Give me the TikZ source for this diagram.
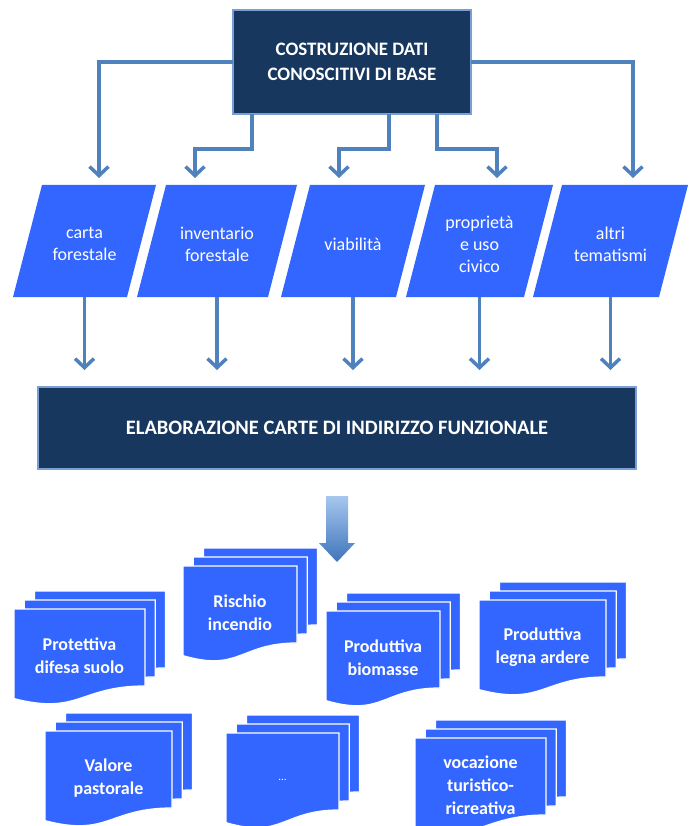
\documentclass[tikz,border=0pt]{standalone}
\usepackage{fontspec}
\setmainfont{Carlito}
\usetikzlibrary{arrows.meta,calc}
\definecolor{darkfill}{HTML}{17375E}
\definecolor{boxedge}{HTML}{7A9FD4}
\definecolor{vivid}{HTML}{3366FF}
\definecolor{connc}{HTML}{4F81BD}
\definecolor{arrowtop}{HTML}{A7C7EE}
\definecolor{arrowbot}{HTML}{3F74BA}
\tikzset{
  darkbox/.style={fill=darkfill, draw=boxedge, line width=2pt, text=white,
    font=\bfseries\fontsize{19}{25}\selectfont, align=center, inner sep=0pt, outer sep=0pt},
  parafill/.style={fill=vivid},
  paratext/.style={text=white, font=\fontsize{18}{22}\selectfont, align=center,
    inner sep=0pt, outer sep=0pt},
  connector/.style={draw=connc, line width=3.5pt, -{Straight Barb[length=9pt,width=19pt]}},
  sheet/.style={fill=vivid, draw=white, line width=1.3pt},
  stacktext/.style={text=white, font=\bfseries\fontsize{18}{23}\selectfont, align=center, inner sep=0pt},
}
\newcommand\Para[4]{%
  \path[parafill] ({#2-#3/2},297) -- ({#2+#3/2-29},297) -- ({#2+#3/2},185) -- ({#2-#3/2+29},185) -- cycle;
  \node[paratext, minimum width=#3pt, minimum height=112pt] (#1) at (#2,244) {#4};
}
\newcommand\DocStack[6]{%
  \foreach \k in {2,1,0}{%
    \pgfmathsetmacro\X{#2+\k*10.25}%
    \pgfmathsetmacro\Y{#3-\k*9}%
    \path[sheet] (\X,\Y) -- ({\X+#4},\Y) -- ({\X+#4},{\Y+0.802*#5})
      .. controls ({\X+0.5*#4},{\Y+0.802*#5}) and ({\X+0.5*#4},{\Y+1.107*#5}) ..
      (\X,{\Y+0.934*#5}) -- cycle;
  }%
  \node[stacktext] (#1) at ({#2+#4/2},{#3+47}) {#6};
}
\begin{document}
\begin{tikzpicture}[x=1pt,y=-1pt]
\useasboundingbox (0,0) rectangle (690,826);

\node[darkbox, minimum width=238pt, minimum height=104pt] (build) at (352,62)
  {COSTRUZIONE DATI\\CONOSCITIVI DI BASE};

\Para{p1}{84.5}{143}{carta\\forestale}
\Para{p2}{217}{160}{inventario\\forestale}
\Para{p3}{353}{144}{viabilità}
\Para{p4}{479.5}{147}{proprietà\\e uso\\civico}
\Para{p5}{610.5}{155}{altri\\tematismi}

\node[darkbox, font=\bfseries\fontsize{20.5}{24}\selectfont, minimum width=598pt, minimum height=82pt]
  (elab) at (337,428) {ELABORAZIONE CARTE DI INDIRIZZO FUNZIONALE};

\draw[connector, shorten >=10pt] (build.west) -| ([xshift=14.5pt]p1.north);
\draw[connector, shorten >=10pt] (build.east) -| ([xshift=22.5pt]p5.north);
\draw[connector, shorten >=10pt] ([xshift=-100pt]build.south) -- ++(0,35) -| ([xshift=-22pt]p2.north);
\draw[connector, shorten >=10pt] ([xshift=37pt]build.south) -- ++(0,35) -| ([xshift=-14pt]p3.north);
\draw[connector, shorten >=10pt] ([xshift=85pt]build.south) -- ++(0,35) -| ([xshift=17.5pt]p4.north);

\foreach \p in {p1,p2,p3,p4,p5}
  \draw[connector, shorten >=17pt] ([yshift=3pt]\p.south) -- (\p.south |- elab.north);

\shade[top color=arrowtop, bottom color=arrowbot]
  (326,496) -- (348,496) -- (348,543) -- (355,543) -- (337,562) -- (319,543) -- (326,543) -- cycle;

\DocStack{s1}{14}{609}{131}{96}{Protettiva\\difesa suolo}
\DocStack{s2}{183}{566}{114}{96}{Rischio\\incendio}
\DocStack{s3}{326}{611}{114}{96}{Produttiva\\biomasse}
\DocStack{s4}{479}{600}{127}{96}{Produttiva\\legna ardere}
\DocStack{s5}{45}{731}{127}{96}{Valore\\pastorale}
\DocStack{s6}{226}{733}{113}{96}{\normalfont\fontsize{11}{13}\selectfont ...}
\DocStack{s7}{415}{738}{131}{96}{\fontsize{18}{21.5}\selectfont vocazione\\turistico-\\ricreativa}
\end{tikzpicture}
\end{document}
